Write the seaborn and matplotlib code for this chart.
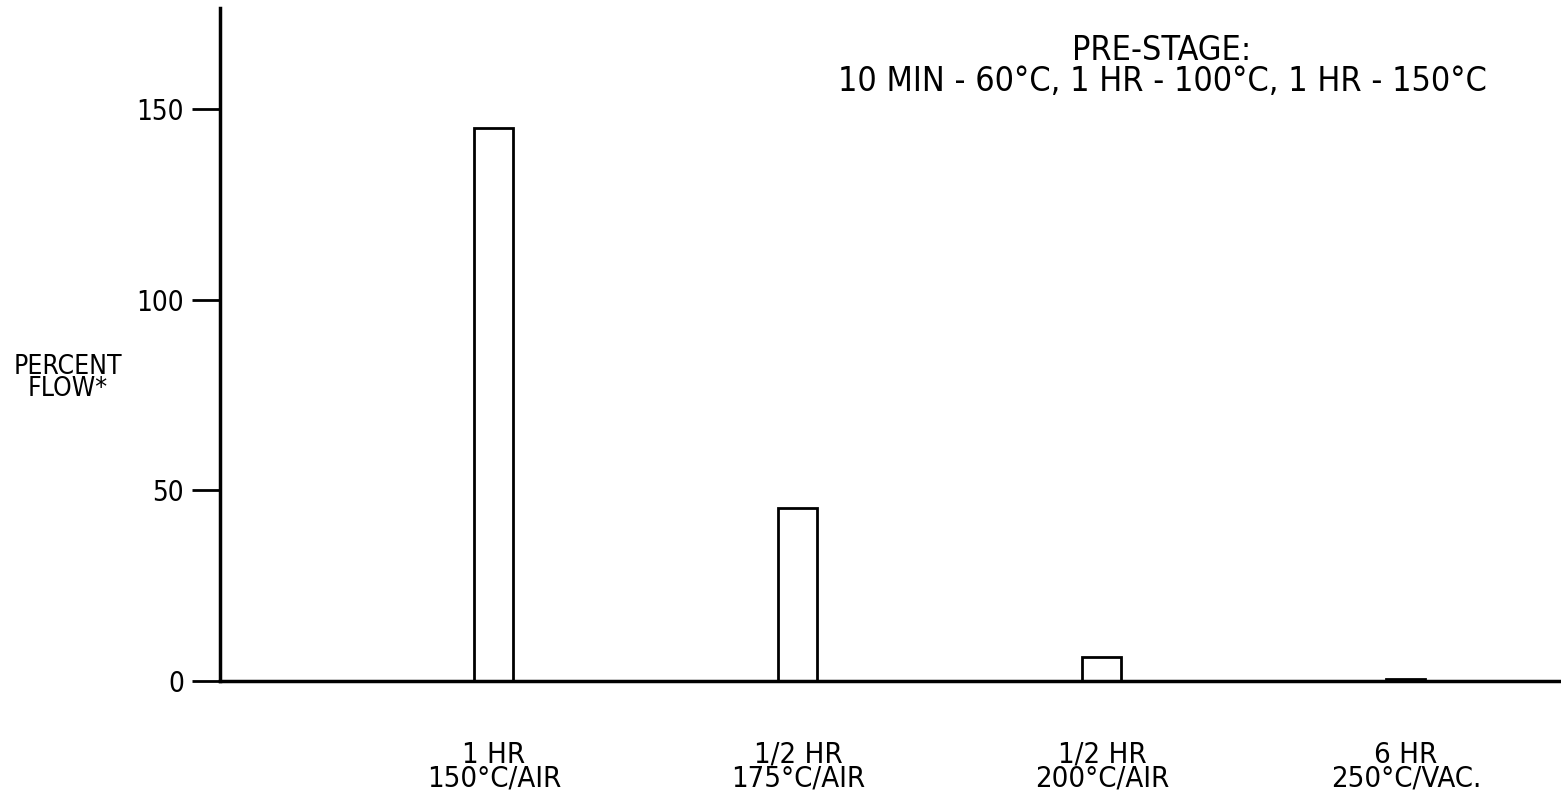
import matplotlib
matplotlib.use("Agg")
import matplotlib.pyplot as plt
import seaborn as sns
import pandas as pd
from matplotlib import font_manager

categories = ["1 HR\n150°C/AIR", "1/2 HR\n175°C/AIR", "1/2 HR\n200°C/AIR", "6 HR\n250°C/VAC."]
percent_flow = [145, 45.5, 6.3, 0.5]
y_ticks = [0, 50, 100, 150]

sns.set_theme(style="white")
names = {f.name for f in font_manager.fontManager.ttflist}
fam = "Liberation Sans Narrow" if "Liberation Sans Narrow" in names else "DejaVu Sans"
plt.rcParams["font.family"] = [fam, "DejaVu Sans"]
plt.rcParams["font.stretch"] = "condensed"
plt.rcParams["text.color"] = "black"
plt.rcParams["xtick.color"] = "black"
plt.rcParams["ytick.color"] = "black"

df = pd.DataFrame({"cat": categories, "val": percent_flow})

fig = plt.figure(figsize=(15.61, 7.92), dpi=100)
ax = fig.add_axes([0.141, 0.14, 0.859, 0.85])
sns.barplot(data=df, x="cat", y="val", ax=ax, width=0.128, color="white",
            edgecolor="black", linewidth=2, saturation=1)

ax.set_xlim(-0.9, 3.51)
ax.set_ylim(0, 176.5)
ax.set_yticks(y_ticks)
ax.set_yticklabels([str(t) for t in y_ticks], fontsize=20)
ax.tick_params(axis="y", direction="out", length=20, width=2, color="black", pad=6, left=True,
               labelcolor="black")
ax.tick_params(axis="x", length=0, pad=43, labelsize=21, labelcolor="black")
for lbl in ax.get_xticklabels():
    lbl.set_linespacing(0.8)
for s in ["top", "right"]:
    ax.spines[s].set_visible(False)
for s in ["left", "bottom"]:
    ax.spines[s].set_color("black")
    ax.spines[s].set_linewidth(2.5)
ax.set_xlabel("")
ax.set_ylabel("")

fig.text(68 / 1561, 1 - 378 / 792, "PERCENT\nFLOW*", ha="center", va="center",
         fontsize=19, linespacing=0.75)
fig.text(1162 / 1561, 1 - 66 / 792, "PRE-STAGE:\n10 MIN - 60°C, 1 HR - 100°C, 1 HR - 150°C",
         ha="center", va="center", fontsize=24.5, linespacing=0.95)

fig.savefig("out.png", dpi=100, facecolor="white")
